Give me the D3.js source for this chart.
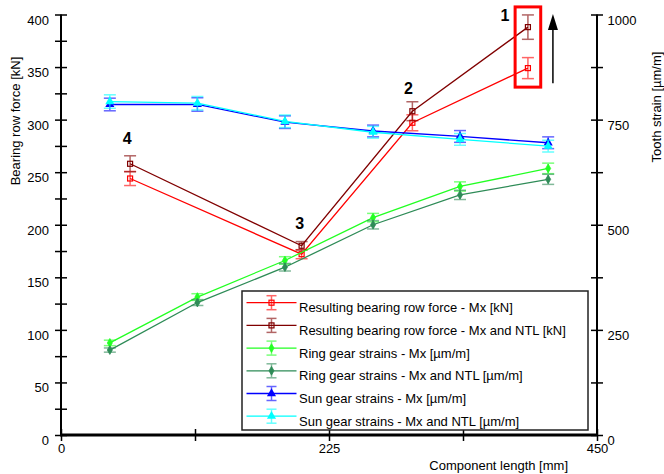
<!DOCTYPE html>
<html>
<head>
<meta charset="utf-8">
<script src="https://cdn.jsdelivr.net/npm/d3@7/dist/d3.min.js"></script>
<style>
  body { margin: 0; background: #fff; }
  text { font-family: "Liberation Sans", Arial, sans-serif; }
</style>
</head>
<body>
<svg width="664" height="474"></svg>
<script>
// positions along the component [mm]
var strainX = [41, 114.5, 188, 262, 335, 409];
var bearingX = [58, 202, 295, 392];

// bearing row force [kN]
var bearingMx = [244, 172, 297, 349];
var bearingMxErr = [6.7, 4.3, 7.6, 10];
var bearingMxNtl = [258, 180, 308, 388];
var bearingMxNtlErr = [7.6, 4, 9, 11.6];

// tooth strains [um/m]
var ringMx = [219, 328, 415, 517, 591, 634];
var ringMxErr = [6.5, 8, 9, 10, 11, 12.5];
var ringMxNtl = [202, 315, 399, 500, 571, 608];
var ringMxNtlErr = [5, 7, 9, 10, 11, 12];
var sunMx = [786, 786, 744, 723, 710, 695];
var sunMxErr = [15, 16, 15, 14, 14, 14];
var sunMxNtl = [793, 789, 746, 720, 703, 687];
var sunMxNtlErr = [16, 16, 15, 14, 14, 14];

var legendLabels = [
  'Resulting bearing row force - Mx [kN]',
  'Resulting bearing row force - Mx and NTL [kN]',
  'Ring gear strains - Mx [\u00b5m/m]',
  'Ring gear strains - Mx and NTL [\u00b5m/m]',
  'Sun gear strains - Mx [\u00b5m/m]',
  'Sun gear strains - Mx and NTL [\u00b5m/m]'
];
var callouts = ['4', '3', '2', '1'];   // one per bearing position

var forceTicks = d3.range(0, 401, 25);
var strainTicks = d3.range(0, 1001, 125);
var lengthTicks = [0, 112.5, 225, 337.5, 450];

var svg = d3.select('svg');
var x = d3.scaleLinear().domain([0, 450]).range([61, 597]);
var yForce = d3.scaleLinear().domain([0, 400]).range([435, 14.5]);
var yStrain = d3.scaleLinear().domain([0, 1000]).range([435, 14.5]);

var series = [
  { xs: bearingX, ys: bearingMx, err: bearingMxErr, y: yForce, color: '#ff0000', marker: 'square' },
  { xs: bearingX, ys: bearingMxNtl, err: bearingMxNtlErr, y: yForce, color: '#800000', marker: 'square' },
  { xs: strainX, ys: ringMx, err: ringMxErr, y: yStrain, color: '#22ff22', marker: 'diamond' },
  { xs: strainX, ys: ringMxNtl, err: ringMxNtlErr, y: yStrain, color: '#2e8b57', marker: 'diamond' },
  { xs: strainX, ys: sunMx, err: sunMxErr, y: yStrain, color: '#0000ff', marker: 'triangle' },
  { xs: strainX, ys: sunMxNtl, err: sunMxNtlErr, y: yStrain, color: '#00ffff', marker: 'triangle' }
];

function drawMarker(g, type, color) {
  if (type === 'square') {
    g.append('rect').attr('x', -2.5).attr('y', -2.5).attr('width', 5).attr('height', 5)
      .style('fill', 'none').style('stroke', color).style('stroke-width', 1.2);
  } else if (type === 'diamond') {
    g.append('path').attr('d', d3.symbol().type(d3.symbolDiamond).size(22)())
      .style('fill', color).style('stroke', color).style('stroke-width', 0.8);
  } else {
    g.append('path').attr('d', d3.symbol().type(d3.symbolTriangle).size(36)())
      .style('fill', color);
  }
}

function drawErrorBar(g, top, bottom, half, color) {
  var eb = g.append('g').style('stroke', color).style('stroke-width', 1.5).style('opacity', 0.6);
  eb.append('line').attr('x1', 0).attr('x2', 0).attr('y1', top).attr('y2', bottom);
  eb.append('line').attr('x1', -half).attr('x2', half).attr('y1', top).attr('y2', top);
  eb.append('line').attr('x1', -half).attr('x2', half).attr('y1', bottom).attr('y2', bottom);
}

// series lines, error bars and markers
series.forEach(function (s) {
  var pts = s.xs.map(function (v, i) { return [v, s.ys[i], s.err[i]]; });
  var line = d3.line().x(function (d) { return x(d[0]); }).y(function (d) { return s.y(d[1]); });
  svg.append('path').datum(pts).attr('d', line)
    .style('fill', 'none').style('stroke', s.color).style('stroke-width', 1.3);
  pts.forEach(function (d) {
    var g = svg.append('g').attr('transform', 'translate(' + x(d[0]) + ',' + s.y(d[1]) + ')');
    drawErrorBar(g, s.y(d[1] + d[2]) - s.y(d[1]), s.y(d[1] - d[2]) - s.y(d[1]), 6, s.color);
    drawMarker(g, s.marker, s.color);
  });
});

// axes
var leftAxis = svg.append('g').attr('transform', 'translate(' + x(0) + ',0)')
  .call(d3.axisLeft(yForce).tickValues(forceTicks).tickSize(6)
    .tickFormat(function (d) { return d % 50 === 0 ? d : ''; }));
var rightAxis = svg.append('g').attr('transform', 'translate(' + x(450) + ',0)')
  .call(d3.axisRight(yStrain).tickValues(strainTicks).tickSize(6)
    .tickFormat(function (d) { return d % 250 === 0 ? d : ''; }));
var bottomAxis = svg.append('g').attr('transform', 'translate(0,' + yForce(0) + ')')
  .call(d3.axisBottom(x).tickValues(lengthTicks).tickSize(6)
    .tickFormat(function (d) { return d % 225 === 0 ? d : ''; }));

[leftAxis, rightAxis, bottomAxis].forEach(function (a) {
  a.select('.domain').remove();
  a.selectAll('.tick line').style('stroke', '#000').style('stroke-width', 1.5);
  a.selectAll('.tick text').style('font-size', '13px').style('fill', '#000');
});
leftAxis.selectAll('.tick line').attr('x1', 6);
leftAxis.selectAll('.tick text').attr('x', -12).attr('dy', '0.73em');
rightAxis.selectAll('.tick line').attr('x1', -6);
rightAxis.selectAll('.tick text').attr('x', 10.5).attr('dy', '0.73em');
bottomAxis.selectAll('.tick line').attr('y1', -6);
bottomAxis.selectAll('.tick text').attr('y', 18).attr('dy', 0);

svg.append('line').attr('x1', x(0)).attr('x2', x(0)).attr('y1', yForce(400)).attr('y2', yForce(0) + 1)
  .style('stroke', '#000').style('stroke-width', 2);
svg.append('line').attr('x1', x(450)).attr('x2', x(450)).attr('y1', yForce(400)).attr('y2', yForce(0) + 1)
  .style('stroke', '#000').style('stroke-width', 2);
svg.append('line').attr('x1', x(0) - 1).attr('x2', x(450) + 1).attr('y1', yForce(0)).attr('y2', yForce(0))
  .style('stroke', '#000').style('stroke-width', 3);

// axis titles
svg.append('text').attr('transform', 'translate(19.5,121) rotate(-90)')
  .attr('text-anchor', 'middle').style('font-size', '13px').text('Bearing row force [kN]');
svg.append('text').attr('transform', 'translate(661,107) rotate(-90)')
  .attr('text-anchor', 'middle').style('font-size', '13px').text('Tooth strain [\u00b5m/m]');
svg.append('text').attr('x', 568).attr('y', 470)
  .attr('text-anchor', 'end').style('font-size', '13px').text('Component length [mm]');

// callout numbers above the bearing points
var calloutDx = [-3, -2, -4, -23];
var calloutGap = [12, 12.5, 8, -5.7];
callouts.forEach(function (c, i) {
  var top = Math.min(yForce(bearingMx[i] + bearingMxErr[i]), yForce(bearingMxNtl[i] + bearingMxNtlErr[i]));
  svg.append('text').attr('x', x(bearingX[i]) + calloutDx[i]).attr('y', top - calloutGap[i])
    .attr('text-anchor', 'middle').style('font-size', '16px').style('font-weight', 'bold').text(c);
});

// highlight box round the last bearing position and the arrow
var last = bearingX.length - 1;
var boxTop = yForce(bearingMxNtl[last] + bearingMxNtlErr[last]) - 8;
var boxBottom = yForce(bearingMx[last] - bearingMxErr[last]) + 8.5;
svg.append('rect').attr('x', x(bearingX[last]) - 12.8).attr('y', boxTop)
  .attr('width', 25.6).attr('height', boxBottom - boxTop)
  .style('fill', 'none').style('stroke', '#ff0000').style('stroke-width', 3);
var ax = x(bearingX[last]) + 25;
svg.append('line').attr('x1', ax).attr('x2', ax).attr('y1', boxBottom - 4).attr('y2', boxTop + 20)
  .style('stroke', '#000').style('stroke-width', 1.5);
svg.append('path').attr('d', 'M' + ax + ',' + (boxTop + 7) + 'L' + (ax - 5) + ',' + (boxTop + 23) + 'L' + (ax + 5) + ',' + (boxTop + 23) + 'Z')
  .style('fill', '#000');

// legend
var legend = svg.append('g').attr('transform', 'translate(242,291)');
legend.append('rect').attr('width', 346).attr('height', 139)
  .style('fill', '#fff').style('stroke', '#222').style('stroke-width', 1.5);
series.forEach(function (s, i) {
  var row = legend.append('g').attr('transform', 'translate(0,' + (11.7 + i * 22.7) + ')');
  row.append('line').attr('x1', 4.5).attr('x2', 54.5).attr('y1', 0).attr('y2', 0)
    .style('stroke', s.color).style('stroke-width', 1.3);
  var m = row.append('g').attr('transform', 'translate(29.5,0)');
  drawErrorBar(m, -7, 7, 5, s.color);
  drawMarker(m, s.marker, s.color);
  row.append('text').attr('x', 57).attr('y', 9.6).style('font-size', '13px').text(legendLabels[i]);
});
</script>
</body>
</html>
